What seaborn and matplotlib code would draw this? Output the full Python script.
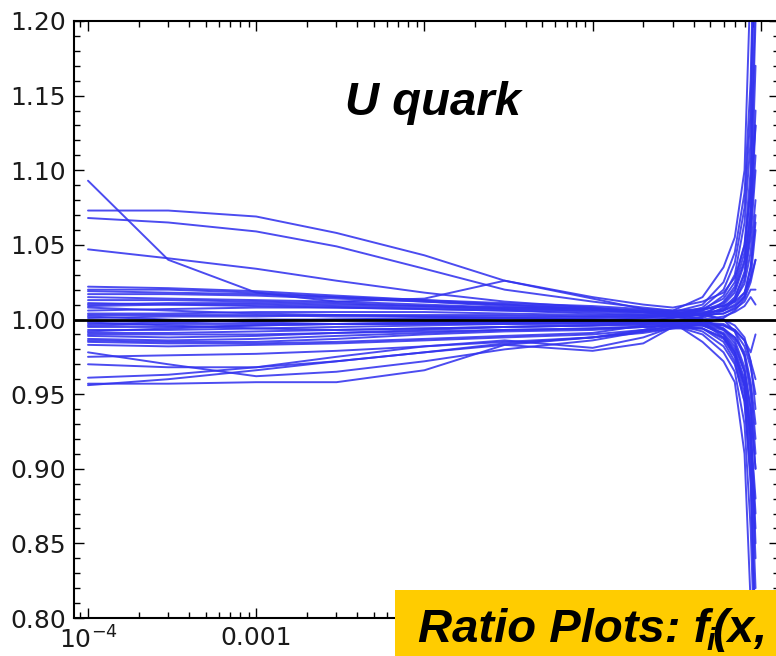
import numpy as np
import pandas as pd
import matplotlib
matplotlib.use("Agg")
import matplotlib.pyplot as plt
import seaborn as sns
from matplotlib.patches import Rectangle
from matplotlib.ticker import (FixedLocator, FixedFormatter, MultipleLocator,
                               NullFormatter, FormatStrFormatter, LogLocator)

# x nodes (momentum fraction)
x_nodes = [1e-4, 3e-4, 1e-3, 3e-3, 1e-2, 3e-2, 0.1, 0.2, 0.3, 0.45, 0.6, 0.7, 0.8, 0.87, 0.93]

# ratio curves (one list per error-set member)
A   = [1.073, 1.073, 1.069, 1.058, 1.043, 1.026, 1.015, 1.010, 1.008, 1.012, 1.018, 1.028, 1.050, 1.085, 1.130]
B   = [1.068, 1.065, 1.059, 1.049, 1.034, 1.020, 1.012, 1.008, 1.006, 1.007, 1.009, 1.012, 1.018, 1.028, 1.040]
C   = [1.047, 1.041, 1.034, 1.026, 1.018, 1.012, 1.008, 1.005, 1.003, 0.998, 0.988, 0.976, 0.955, 0.920, 0.860]
D   = [1.093, 1.040, 1.018, 1.012, 1.014, 1.026, 1.014, 1.007, 1.005, 1.010, 1.025, 1.045, 1.085, 1.160, 1.300]
E   = [0.957, 0.957, 0.958, 0.958, 0.966, 0.983, 0.988, 0.992, 0.994, 0.994, 0.985, 0.972, 0.945, 0.895, 0.790]
F   = [0.978, 0.970, 0.962, 0.965, 0.972, 0.980, 0.986, 0.992, 0.996, 0.996, 0.991, 0.982, 0.965, 0.940, 0.900]
G   = [0.970, 0.968, 0.968, 0.972, 0.978, 0.984, 0.988, 0.993, 0.998, 1.002, 1.008, 1.015, 1.030, 1.060, 1.110]
H   = [0.961, 0.963, 0.968, 0.975, 0.982, 0.986, 0.981, 0.988, 0.995, 0.994, 0.988, 0.978, 0.958, 0.925, 0.870]
I   = [0.956, 0.960, 0.966, 0.972, 0.978, 0.983, 0.979, 0.984, 0.995, 1.002, 1.012, 1.022, 1.045, 1.090, 1.200]
b1  = [1.022, 1.021, 1.019, 1.016, 1.013, 1.011, 1.009, 1.007, 1.006, 1.015, 1.035, 1.055, 1.100, 1.230, 1.400]
b2  = [1.020, 1.020, 1.018, 1.015, 1.012, 1.009, 1.007, 1.005, 1.004, 1.005, 1.006, 1.009, 1.015, 1.028, 1.060]
b3  = [1.017, 1.017, 1.016, 1.014, 1.012, 1.010, 1.008, 1.006, 1.004, 1.000, 0.993, 0.984, 0.965, 0.930, 0.850]
b4  = [1.013, 1.013, 1.012, 1.011, 1.009, 1.007, 1.006, 1.005, 1.004, 1.006, 1.011, 1.020, 1.040, 1.070, 1.140]
b5  = [1.011, 1.010, 1.009, 1.008, 1.007, 1.006, 1.005, 1.004, 1.003, 1.000, 0.994, 0.986, 0.968, 0.940, 0.900]
b6  = [1.009, 1.010, 1.010, 1.009, 1.008, 1.007, 1.006, 1.005, 1.005, 1.007, 1.009, 1.013, 1.024, 1.045, 1.080]
b7  = [1.006, 1.007, 1.008, 1.008, 1.007, 1.006, 1.004, 1.003, 1.002, 0.998, 0.990, 0.978, 0.955, 0.915, 0.840]
b8  = [1.004, 1.004, 1.005, 1.005, 1.005, 1.004, 1.003, 1.003, 1.003, 1.007, 1.014, 1.025, 1.050, 1.100, 1.220]
b9  = [1.001, 1.002, 1.002, 1.003, 1.003, 1.003, 1.002, 1.002, 1.002, 1.003, 1.004, 1.007, 1.012, 1.020, 1.020]
b10 = [0.999, 0.999, 1.000, 1.000, 1.001, 1.001, 1.000, 0.999, 0.999, 0.998, 0.996, 0.992, 0.982, 0.968, 0.950]
b11 = [0.997, 0.998, 0.999, 1.000, 1.000, 1.001, 1.001, 1.001, 1.001, 1.003, 1.007, 1.012, 1.027, 1.055, 1.100]
b12 = [0.995, 0.995, 0.996, 0.997, 0.998, 0.998, 0.998, 0.998, 0.998, 0.997, 0.994, 0.988, 0.976, 0.955, 0.920]
b13 = [0.993, 0.993, 0.994, 0.995, 0.996, 0.997, 0.998, 0.999, 1.001, 1.004, 1.010, 1.018, 1.038, 1.075, 1.170]
b14 = [0.991, 0.991, 0.992, 0.993, 0.994, 0.995, 0.996, 0.996, 0.997, 0.992, 0.982, 0.970, 0.945, 0.890, 0.780]
b15 = [0.989, 0.988, 0.989, 0.991, 0.993, 0.995, 0.996, 0.998, 0.999, 1.000, 1.002, 1.005, 1.009, 1.015, 1.010]
b16 = [0.987, 0.986, 0.987, 0.989, 0.991, 0.993, 0.994, 0.995, 0.996, 0.997, 0.996, 0.993, 0.986, 0.978, 0.990]
b17 = [0.986, 0.985, 0.985, 0.987, 0.990, 0.992, 0.993, 0.995, 0.996, 0.990, 0.978, 0.965, 0.930, 0.860, 0.760]
b18 = [0.985, 0.984, 0.984, 0.985, 0.987, 0.989, 0.991, 0.996, 1.002, 1.006, 1.016, 1.030, 1.065, 1.120, 1.280]
b19 = [0.983, 0.982, 0.983, 0.984, 0.986, 0.988, 0.990, 0.993, 0.995, 0.996, 0.993, 0.988, 0.978, 0.958, 0.930]
b20 = [1.015, 1.014, 1.013, 1.012, 1.010, 1.008, 1.007, 1.005, 1.004, 1.003, 1.000, 0.996, 0.988, 0.972, 0.940]
b21 = [1.002, 1.000, 0.998, 0.997, 0.997, 0.998, 0.999, 1.001, 1.003, 1.008, 1.020, 1.038, 1.075, 1.140, 1.300]
b22 = [0.998, 0.996, 0.994, 0.993, 0.994, 0.995, 0.996, 0.997, 0.998, 0.985, 0.972, 0.958, 0.910, 0.810, 0.650]
b23 = [1.008, 1.006, 1.004, 1.003, 1.002, 1.002, 1.002, 1.002, 1.003, 1.004, 1.006, 1.010, 1.018, 1.035, 1.065]
b24 = [0.992, 0.994, 0.996, 0.997, 0.998, 0.998, 0.998, 0.997, 0.997, 0.998, 0.997, 0.993, 0.986, 0.972, 0.960]
b25 = [1.019, 1.018, 1.017, 1.015, 1.013, 1.010, 1.007, 1.005, 1.004, 1.003, 1.004, 1.008, 1.016, 1.035, 1.070]
b26 = [1.003, 1.003, 1.003, 1.002, 1.002, 1.001, 1.000, 0.999, 0.998, 0.996, 0.990, 0.980, 0.960, 0.925, 0.880]
b27 = [0.996, 0.997, 0.997, 0.997, 0.997, 0.997, 0.997, 0.998, 0.999, 1.001, 1.006, 1.014, 1.032, 1.065, 1.130]
b28 = [0.990, 0.990, 0.990, 0.991, 0.992, 0.993, 0.994, 0.995, 0.996, 0.994, 0.987, 0.975, 0.950, 0.905, 0.820]
b29 = [0.975, 0.976, 0.977, 0.979, 0.982, 0.985, 0.988, 0.991, 0.994, 0.997, 1.001, 1.006, 1.014, 1.025, 1.040]
b30 = [1.010, 1.011, 1.011, 1.010, 1.009, 1.008, 1.007, 1.006, 1.005, 1.004, 1.000, 0.992, 0.975, 0.950, 0.910]

curves = [A, B, C, D, E, F, G, H, I, b1, b2, b3, b4, b5, b6, b7, b8, b9, b10,
          b11, b12, b13, b14, b15, b16, b17, b18, b19, b20, b21, b22, b23, b24,
          b25, b26, b27, b28, b29, b30]

xtick_vals = [1e-4, 1e-3, 1e-2, 1e-1, 1.0]
xtick_labels = [r"$\mathdefault{10^{-4}}$", "0.001", "0.01", "0.1", "1"]

title_text = "U quark"
banner_main = "Ratio Plots: f"
banner_sub = "i"
banner_tail = "(x,"

rows = []
for k, c in enumerate(curves):
    for xv, yv in zip(x_nodes, c):
        rows.append((k, xv, yv))
df = pd.DataFrame(rows, columns=["member", "x", "ratio"])

sns.set_theme(style="white")
plt.rcParams["font.family"] = ["DejaVu Sans"]

W, H = 776, 656
fig = plt.figure(figsize=(W / 100, H / 100), dpi=100)
ax = fig.add_axes([74 / W, 38 / H, (779 - 74) / W, (619 - 22) / H])

sns.lineplot(data=df, x="x", y="ratio", units="member", estimator=None,
             color="#3333ee", lw=1.4, alpha=0.88, ax=ax, legend=False)
ax.axhline(1.0, color="black", lw=2.0, zorder=5)

ax.set_xscale("log")
ax.set_xlim(10 ** -4.0833, 10 ** 0.108)
ax.set_ylim(0.80, 1.20)
ax.set_xlabel("")
ax.set_ylabel("")

ax.xaxis.set_major_locator(FixedLocator(xtick_vals))
ax.xaxis.set_major_formatter(FixedFormatter(xtick_labels))
ax.xaxis.set_minor_locator(LogLocator(base=10, subs=np.arange(2, 10)))
ax.xaxis.set_minor_formatter(NullFormatter())
ax.yaxis.set_major_locator(MultipleLocator(0.05))
ax.yaxis.set_major_formatter(FormatStrFormatter("%.2f"))
ax.yaxis.set_minor_locator(MultipleLocator(0.01))

ax.tick_params(which="both", direction="in", top=True, right=True,
               bottom=True, left=True, color="black", width=1.0)
ax.tick_params(which="major", length=7)
ax.tick_params(which="minor", length=4)
ax.tick_params(axis="both", which="major", labelsize=18, labelcolor="#1a1a1a", pad=6)
for s in ax.spines.values():
    s.set_color("black")
    s.set_linewidth(1.5)

fig.text(433 / W, 1 - 115 / H, title_text, ha="center", va="baseline",
         fontsize=34, fontweight="bold", style="italic", family="Liberation Sans",
         color="black")

fig.add_artist(Rectangle((395 / W, 0), (790 - 395) / W, 66 / H,
                         transform=fig.transFigure, facecolor="#FFCC00",
                         edgecolor="none", zorder=10))

banner_kw = dict(fontweight="bold", style="italic", family="Liberation Sans",
                 color="black", zorder=11, ha="left", va="baseline")
renderer = fig.canvas.get_renderer()
base_y = 14
t1 = fig.text(418 / W, base_y / H, banner_main, fontsize=34, **banner_kw)
bb1 = t1.get_window_extent(renderer=renderer)
t2 = fig.text((bb1.x1 - 3) / W, (base_y - 8) / H, banner_sub, fontsize=22, **banner_kw)
bb2 = t2.get_window_extent(renderer=renderer)
fig.text((bb2.x1 - 3) / W, base_y / H, banner_tail, fontsize=34, **banner_kw)

fig.savefig("out.png", dpi=100)
